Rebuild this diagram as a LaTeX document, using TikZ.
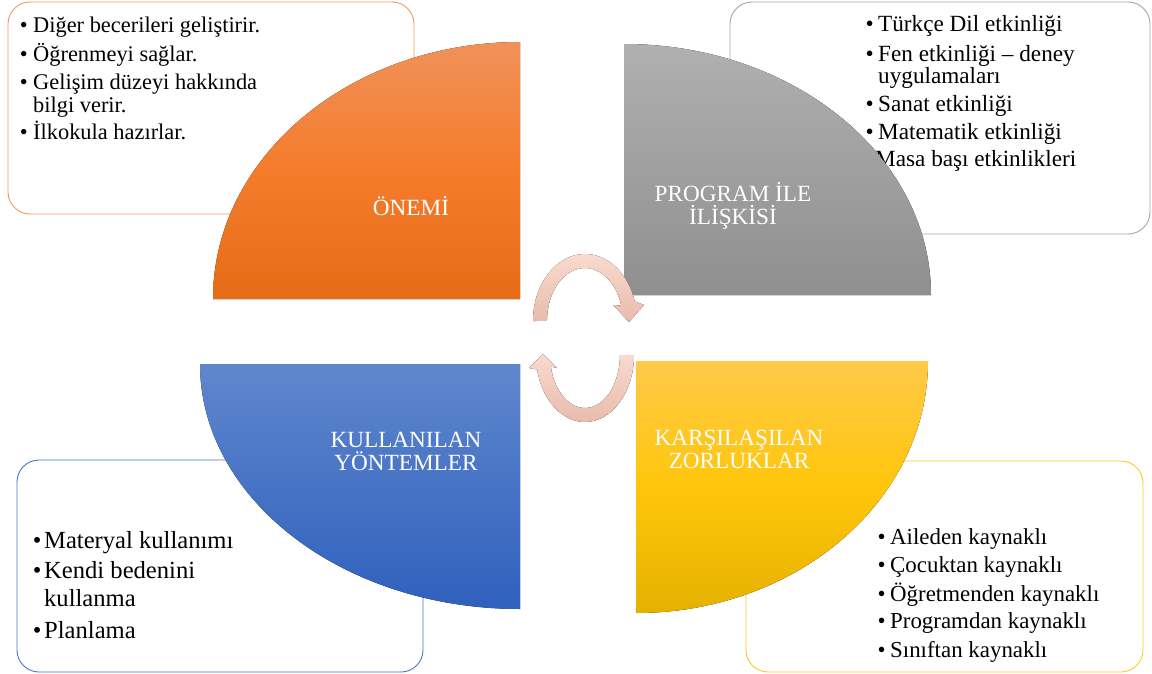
\documentclass[tikz,border=0pt]{standalone}
\usepackage{fontspec}
\setmainfont{Liberation Serif}
\definecolor{orT}{HTML}{F1915A}
\definecolor{orM}{HTML}{F47C2B}
\definecolor{orB}{HTML}{E66B17}
\definecolor{grT}{HTML}{B0B0B0}
\definecolor{grB}{HTML}{8F8F8F}
\definecolor{blT}{HTML}{6087CD}
\definecolor{blB}{HTML}{2F60BD}
\definecolor{yeT}{HTML}{FFC94A}
\definecolor{yeM}{HTML}{FFC60A}
\definecolor{yeB}{HTML}{E5B100}
\definecolor{arT}{HTML}{F9DACE}
\definecolor{arB}{HTML}{E8BCAD}
\definecolor{orLine}{HTML}{F19A60}
\definecolor{grLine}{HTML}{A6A6A6}
\definecolor{blLine}{HTML}{4A78C8}
\definecolor{yeLine}{HTML}{FFC82A}
\newcommand{\bul}[1]{\makebox[#1][l]{•}}
\begin{document}
\begin{tikzpicture}[x=1pt,y=-1pt,
  infobox/.style={draw=#1, line width=0.9pt, rounded corners=22pt, fill=white},
  li/.style={anchor=base west, inner sep=0pt, text=black},
  fo/.style={li, font=\fontsize{22.4}{23}\selectfont},
  fg/.style={li, font=\fontsize{23.2}{24}\selectfont},
  fb/.style={li, font=\fontsize{24.6}{25}\selectfont},
  fy/.style={li, font=\fontsize{22.9}{23}\selectfont},
  lab/.style={anchor=base, inner sep=0pt, text=white, font=\fontsize{23.2}{24}\selectfont},
  arrowsh/.style={top color=arT, bottom color=arB}]
\useasboundingbox (0,0) rectangle (1152,674);
\fill[white] (0,0) rectangle (1152,674);

% boxes
\draw[infobox=orLine] (8,2) rectangle (414,214);
\draw[infobox=grLine] (730,2) rectangle (1150,234);
\draw[infobox=blLine] (17,460) rectangle (423,672);
\draw[infobox=yeLine] (746,461) rectangle (1143,672);

% orange list
\node[fo] (o1) at (19.6,33) {\bul{13.4pt}Diğer becerileri geliştirir.};
\node[fo] (o2) at (19.6,62) {\bul{13.4pt}Öğrenmeyi sağlar.};
\node[fo] (o3) at (19.6,90) {\bul{13.4pt}Gelişim düzeyi hakkında};
\node[fo] (o4) at (33,113) {bilgi verir.};
\node[fo] (o5) at (19.6,140) {\bul{13.4pt}İlkokula hazırlar.};

% grey list
\node[fg] (g1) at (865.4,32) {\bul{12.6pt}Türkçe Dil etkinliği};
\node[fg] (g2) at (865.4,62) {\bul{12.6pt}Fen etkinliği – deney};
\node[fg] (g3) at (878,84) {uygulamaları};
\node[fg] (g4) at (865.4,112) {\bul{12.6pt}Sanat etkinliği};
\node[fg] (g5) at (865.4,140) {\bul{12.6pt}Matematik etkinliği};
\node[fg] (g6) at (875,167) {Masa başı etkinlikleri};

% blue list
\node[fb] (b1) at (32.7,548) {\bul{11.3pt}Materyal kullanımı};
\node[fb] (b2) at (32.7,578) {\bul{11.3pt}Kendi bedenini};
\node[fb] (b3) at (44,606) {kullanma};
\node[fb] (b4) at (32.7,638) {\bul{11.3pt}Planlama};

% yellow list
\node[fy] (y1) at (877.5,544) {\bul{12.5pt}Aileden kaynaklı};
\node[fy] (y2) at (877.5,572) {\bul{12.5pt}Çocuktan kaynaklı};
\node[fy] (y3) at (877.5,601) {\bul{12.5pt}Öğretmenden kaynaklı};
\node[fy] (y4) at (877.5,628) {\bul{12.5pt}Programdan kaynaklı};
\node[fy] (y5) at (877.5,657) {\bul{12.5pt}Sınıftan kaynaklı};

% quarter shapes
\fill[top color=orT, bottom color=orB, middle color=orM] (520,299) -- (213,299) arc[start angle=180, end angle=270, x radius=307, y radius=257] -- cycle;
\fill[top color=grT, bottom color=grB] (624,295) -- (624,44) arc[start angle=270, end angle=360, x radius=307, y radius=251] -- cycle;
\fill[top color=blT, bottom color=blB] (520,364) -- (200,364) arc[start angle=180, end angle=90, x radius=320, y radius=245] -- cycle;
\fill[top color=yeT, bottom color=yeB, middle color=yeM] (636,361) -- (928,361) arc[start angle=0, end angle=90, x radius=292, y radius=252] -- cycle;

% labels
\node[lab] (l1) at (411,215) {ÖNEMİ};
\node[lab] (l2a) at (733,202) {PROGRAM İLE};
\node[lab] (l2b) at (733,225) {İLİŞKİSİ};
\node[lab] (l3a) at (406,447) {KULLANILAN};
\node[lab] (l3b) at (406,470) {YÖNTEMLER};
\node[lab] (l4a) at (739,445) {KARŞILAŞILAN};
\node[lab] (l4b) at (739,468) {ZORLUKLAR};

% circular arrows
\fill[arrowsh] (533,321) arc[start angle=180, end angle=343, x radius=52, y radius=67] -- (644,305) -- (629,322) -- (613,305) -- (621.3,305.5) arc[start angle=343, end angle=180, x radius=38, y radius=53] -- cycle;
\fill[arrowsh] (634,355) arc[start angle=0, end angle=167.5, x radius=49, y radius=67] -- (529,368) -- (543,354) -- (557,368) -- (550.8,366.5) arc[start angle=167.5, end angle=0, x radius=35, y radius=53] -- cycle;
\end{tikzpicture}
\end{document}
